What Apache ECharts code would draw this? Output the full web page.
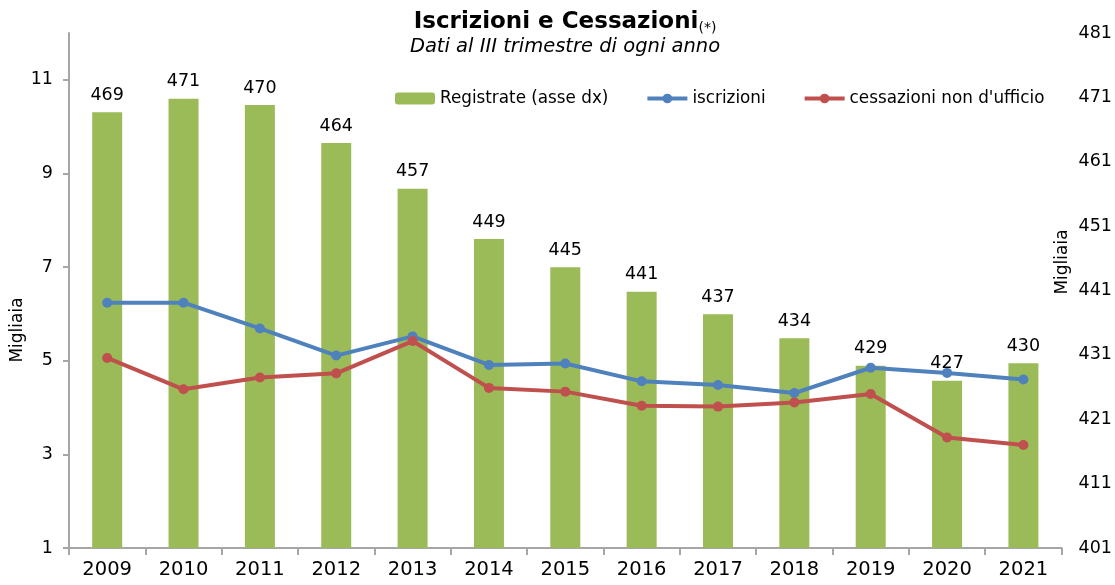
<!DOCTYPE html>
<html>
<head>
<meta charset="utf-8">
<script src="https://cdn.jsdelivr.net/npm/echarts@6/dist/echarts.min.js"></script>
<style>
html,body{margin:0;padding:0;background:#fff;}
#chart{width:1115px;height:585px;}
</style>
</head>
<body>
<div id="chart"></div>
<script>
var years = ['2009','2010','2011','2012','2013','2014','2015','2016','2017','2018','2019','2020','2021'];
var registrate = [468.7, 470.8, 469.8, 463.9, 456.8, 449.0, 444.6, 440.8, 437.3, 433.6, 429.3, 427.0, 429.7];
var iscrizioni = [6.24, 6.24, 5.69, 5.11, 5.52, 4.91, 4.94, 4.56, 4.48, 4.31, 4.85, 4.74, 4.60];
var cessazioni = [5.06, 4.39, 4.64, 4.73, 5.42, 4.42, 4.34, 4.04, 4.02, 4.11, 4.29, 3.36, 3.20];
var leftTicks = [1, 3, 5, 7, 9, 11];
var rightTicks = [401, 411, 421, 431, 441, 451, 461, 471, 481];

var FONT = 'DejaVu Sans';
var chart = echarts.init(document.getElementById('chart'), null, {renderer: 'canvas'});
var axisColor = '#a6a6a6';
chart.setOption({
  animation: false,
  textStyle: {fontFamily: FONT, color: '#000'},
  grid: {left: 69, right: 53, top: 33, bottom: 37, containLabel: false},
  graphic: [
    {type: 'text', x: 565, y: 7, style: {
      text: '{b|Iscrizioni e Cessazioni}{s|(*)}',
      textAlign: 'center',
      rich: {
        b: {fontFamily: FONT, fontSize: 23, fontWeight: 'bold', fill: '#000', lineHeight: 30},
        s: {fontFamily: FONT, fontSize: 14, fill: '#000', padding: [13, 0, 0, 0]}
      }
    }},
    {type: 'text', x: 565, y: 37, style: {text: 'Dati al III trimestre di ogni anno', fontFamily: FONT, fontSize: 19.5, fontStyle: 'italic', fill: '#000', textAlign: 'center'}},
    {type: 'text', x: 18, y: 330, rotation: Math.PI / 2, style: {text: 'Migliaia', fontFamily: FONT, fontSize: 17, fill: '#000', textAlign: 'center', textVerticalAlign: 'middle'}},
    {type: 'text', x: 1063, y: 262, rotation: Math.PI / 2, style: {text: 'Migliaia', fontFamily: FONT, fontSize: 17, fill: '#000', textAlign: 'center', textVerticalAlign: 'middle'}}
  ],
  legend: {
    left: 390, top: 85, itemGap: 37, itemWidth: 40, itemHeight: 12,
    lineStyle: {width: 4},
    textStyle: {fontFamily: FONT, fontSize: 16.8, color: '#000'},
    data: [
      {name: 'Registrate (asse dx)', itemStyle: {}},
      'iscrizioni',
      "cessazioni non d'ufficio"
    ]
  },
  xAxis: {
    type: 'category', data: years, boundaryGap: true,
    axisLine: {lineStyle: {color: axisColor, width: 2}},
    axisTick: {show: true, interval: 0, length: 7, lineStyle: {color: axisColor, width: 2}},
    axisLabel: {fontFamily: FONT, fontSize: 19.5, color: '#000', margin: 12, interval: 0}
  },
  yAxis: [
    {
      type: 'value', min: 1, max: 12,
      axisLine: {show: true, lineStyle: {color: axisColor, width: 2}},
      axisTick: {show: true, length: 6, customValues: leftTicks, lineStyle: {color: axisColor, width: 2}},
      axisLabel: {fontFamily: FONT, fontSize: 17.5, color: '#000', margin: 16, customValues: leftTicks},
      splitLine: {show: false}
    },
    {
      type: 'value', min: 401, max: 481, position: 'right',
      axisLine: {show: false}, axisTick: {show: false},
      axisLabel: {fontFamily: FONT, fontSize: 17.5, color: '#000', margin: 17, customValues: rightTicks},
      splitLine: {show: false}
    }
  ],
  series: [
    {
      name: 'Registrate (asse dx)', type: 'bar', yAxisIndex: 1, data: registrate, barWidth: 30,
      itemStyle: {color: '#9BBB59'},
      label: {show: true, position: 'top', distance: 8, fontFamily: FONT, fontSize: 17.5, color: '#000',
        formatter: function (p) { return Math.round(p.value); }}
    },
    {
      name: 'iscrizioni', type: 'line', yAxisIndex: 0, data: iscrizioni,
      symbol: 'circle', symbolSize: 10,
      lineStyle: {color: '#4F81BD', width: 4}, itemStyle: {color: '#4F81BD'}
    },
    {
      name: "cessazioni non d'ufficio", type: 'line', yAxisIndex: 0, data: cessazioni,
      symbol: 'circle', symbolSize: 10,
      lineStyle: {color: '#C0504D', width: 4}, itemStyle: {color: '#C0504D'}
    }
  ]
});
</script>
</body>
</html>
